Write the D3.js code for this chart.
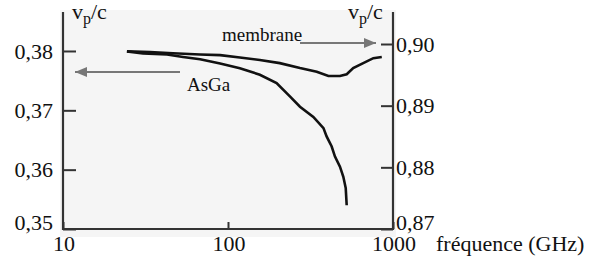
<!DOCTYPE html>
<meta charset="utf-8">
<script src="https://d3js.org/d3.v7.min.js"></script>
<style>
  body { margin: 0; background: #fff; }
  text { font-family: "Liberation Serif", "Times New Roman", serif; fill: #111; }
</style>
<div id="chart"></div>
<script>
  // values
  var xTicks = [10, 100, 1000];
  var leftTicks = [0.35, 0.36, 0.37, 0.38];
  var rightTicks = [0.87, 0.88, 0.89, 0.90];

  // membrane curve (right axis)
  var memFreq = [24.4, 33.7, 46.4, 67.7, 89.6, 118, 156, 206, 273, 345, 406, 477, 524, 574, 660, 760, 855];
  var memVp   = [0.8988, 0.8987, 0.8985, 0.8983, 0.8982, 0.8978, 0.8974, 0.8969, 0.8961, 0.8955, 0.8948, 0.8948, 0.8951, 0.8961, 0.8969, 0.8977, 0.8979];

  // AsGa curve (left axis)
  var asgaFreq = [24.4, 30.5, 42.7, 53.4, 67.7, 89.6, 118, 156, 197, 238, 273, 329, 379, 396, 425, 445, 477, 500, 517, 524];
  var asgaVp   = [0.3799, 0.3796, 0.3794, 0.3790, 0.3786, 0.3779, 0.3771, 0.3760, 0.3746, 0.3723, 0.3706, 0.3689, 0.3670, 0.3656, 0.3639, 0.3622, 0.3605, 0.3588, 0.3569, 0.3540];

  var W = 589, H = 262;
  var pl = 63, pr = 393, pt = 12, pb = 229;

  var svg = d3.select("#chart").append("svg")
      .attr("width", W)
      .attr("height", H);

  var x = d3.scaleLog().domain([10, 1000]).range([pl, pr]);
  var yL = d3.scaleLinear().domain([0.35, 0.38657]).range([pb, pt]);
  var yR = d3.scaleLinear().domain([0.87, 0.90519]).range([pb, pt]);

  var fmt = function(d) { return d3.format(".2f")(d).replace(".", ","); };

  // light plot background
  svg.append("rect")
    .attr("x", pl - 3).attr("y", pt - 2)
    .attr("width", pr - pl + 6).attr("height", pb - pt + 10)
    .attr("fill", "#f5f5f5");

  // left axis
  svg.append("g")
    .attr("class", "ax")
    .attr("transform", "translate(" + pl + ",0)")
    .call(d3.axisRight(yL).tickValues(leftTicks).tickSize(13).tickFormat(""));
  svg.selectAll(".lt")
    .data(leftTicks)
    .enter().append("text")
      .attr("x", 53)
      .attr("y", function(d, i) { return yL(d) + (i == 0 ? -7 : 0); })
      .attr("dy", "0.35em")
      .attr("text-anchor", "end")
      .style("font-size", "22px")
      .text(fmt);

  // right axis
  svg.append("g")
    .attr("class", "ax")
    .attr("transform", "translate(" + pr + ",0)")
    .call(d3.axisLeft(yR).tickValues(rightTicks).tickSize(12).tickFormat(""));
  svg.selectAll(".rt")
    .data(rightTicks)
    .enter().append("text")
      .attr("x", 396)
      .attr("y", function(d, i) { return yR(d) + (i == 0 ? -7 : 0); })
      .attr("dy", "0.35em")
      .attr("text-anchor", "start")
      .style("font-size", "22px")
      .text(fmt);

  // bottom axis
  svg.append("g")
    .attr("class", "ax")
    .attr("transform", "translate(0," + pb + ")")
    .call(d3.axisTop(x).tickValues(xTicks).tickSize(7).tickFormat(""));
  svg.selectAll(".bt")
    .data(xTicks)
    .enter().append("text")
      .attr("x", function(d) { return x(d) + 1; })
      .attr("y", 251)
      .attr("text-anchor", "middle")
      .style("font-size", "22px")
      .text(function(d) { return d; });

  svg.selectAll(".ax .tick line")
    .attr("stroke", "#333")
    .attr("stroke-width", 2);
  svg.selectAll(".ax .domain").remove();

  // frame lines: left, right, bottom
  svg.append("path")
    .attr("d", "M" + pl + "," + pt + "V" + pb + "H" + pr + "V" + pt)
    .attr("fill", "none")
    .attr("stroke", "#333")
    .attr("stroke-width", 2.2);

  svg.append("text")
    .attr("x", 436).attr("y", 251)
    .style("font-size", "22px")
    .text("fréquence (GHz)");

  // v_p/c labels
  function vpLabel(px) {
    var t = svg.append("text").attr("x", px).attr("y", 19).style("font-size", "22px");
    t.append("tspan").text("v");
    t.append("tspan").attr("dy", 5).style("font-size", "16px").text("p");
    t.append("tspan").attr("dy", -5).text("/c");
  }
  vpLabel(72);
  vpLabel(348);

  // curves
  var memData = memFreq.map(function(f, i) { return [f, memVp[i]]; });
  var asgaData = asgaFreq.map(function(f, i) { return [f, asgaVp[i]]; });

  svg.append("path")
    .datum(memData)
    .attr("fill", "none")
    .attr("stroke", "#111")
    .attr("stroke-width", 2.6)
    .attr("d", d3.line().x(function(d) { return x(d[0]); }).y(function(d) { return yR(d[1]); }));

  svg.append("path")
    .datum(asgaData)
    .attr("fill", "none")
    .attr("stroke", "#111")
    .attr("stroke-width", 2.6)
    .attr("d", d3.line().x(function(d) { return x(d[0]); }).y(function(d) { return yL(d[1]); }));

  // annotation arrows
  var defs = svg.append("defs");
  defs.append("marker")
    .attr("id", "arr")
    .attr("viewBox", "0 0 12 10")
    .attr("refX", 12).attr("refY", 5)
    .attr("markerWidth", 12).attr("markerHeight", 10)
    .attr("markerUnits", "userSpaceOnUse")
    .attr("orient", "auto")
    .append("path")
      .attr("d", "M0,0L12,5L0,10Z")
      .attr("fill", "#777");

  svg.append("line")
    .attr("x1", 180).attr("y1", 72)
    .attr("x2", 75).attr("y2", 72)
    .attr("stroke", "#777").attr("stroke-width", 2)
    .attr("marker-end", "url(#arr)");

  svg.append("line")
    .attr("x1", 300).attr("y1", 43)
    .attr("x2", 376).attr("y2", 43)
    .attr("stroke", "#777").attr("stroke-width", 2)
    .attr("marker-end", "url(#arr)");

  svg.append("text")
    .attr("x", 222).attr("y", 41)
    .style("font-size", "19px")
    .text("membrane");

  svg.append("text")
    .attr("x", 187).attr("y", 91)
    .style("font-size", "19px")
    .text("AsGa");
</script>
